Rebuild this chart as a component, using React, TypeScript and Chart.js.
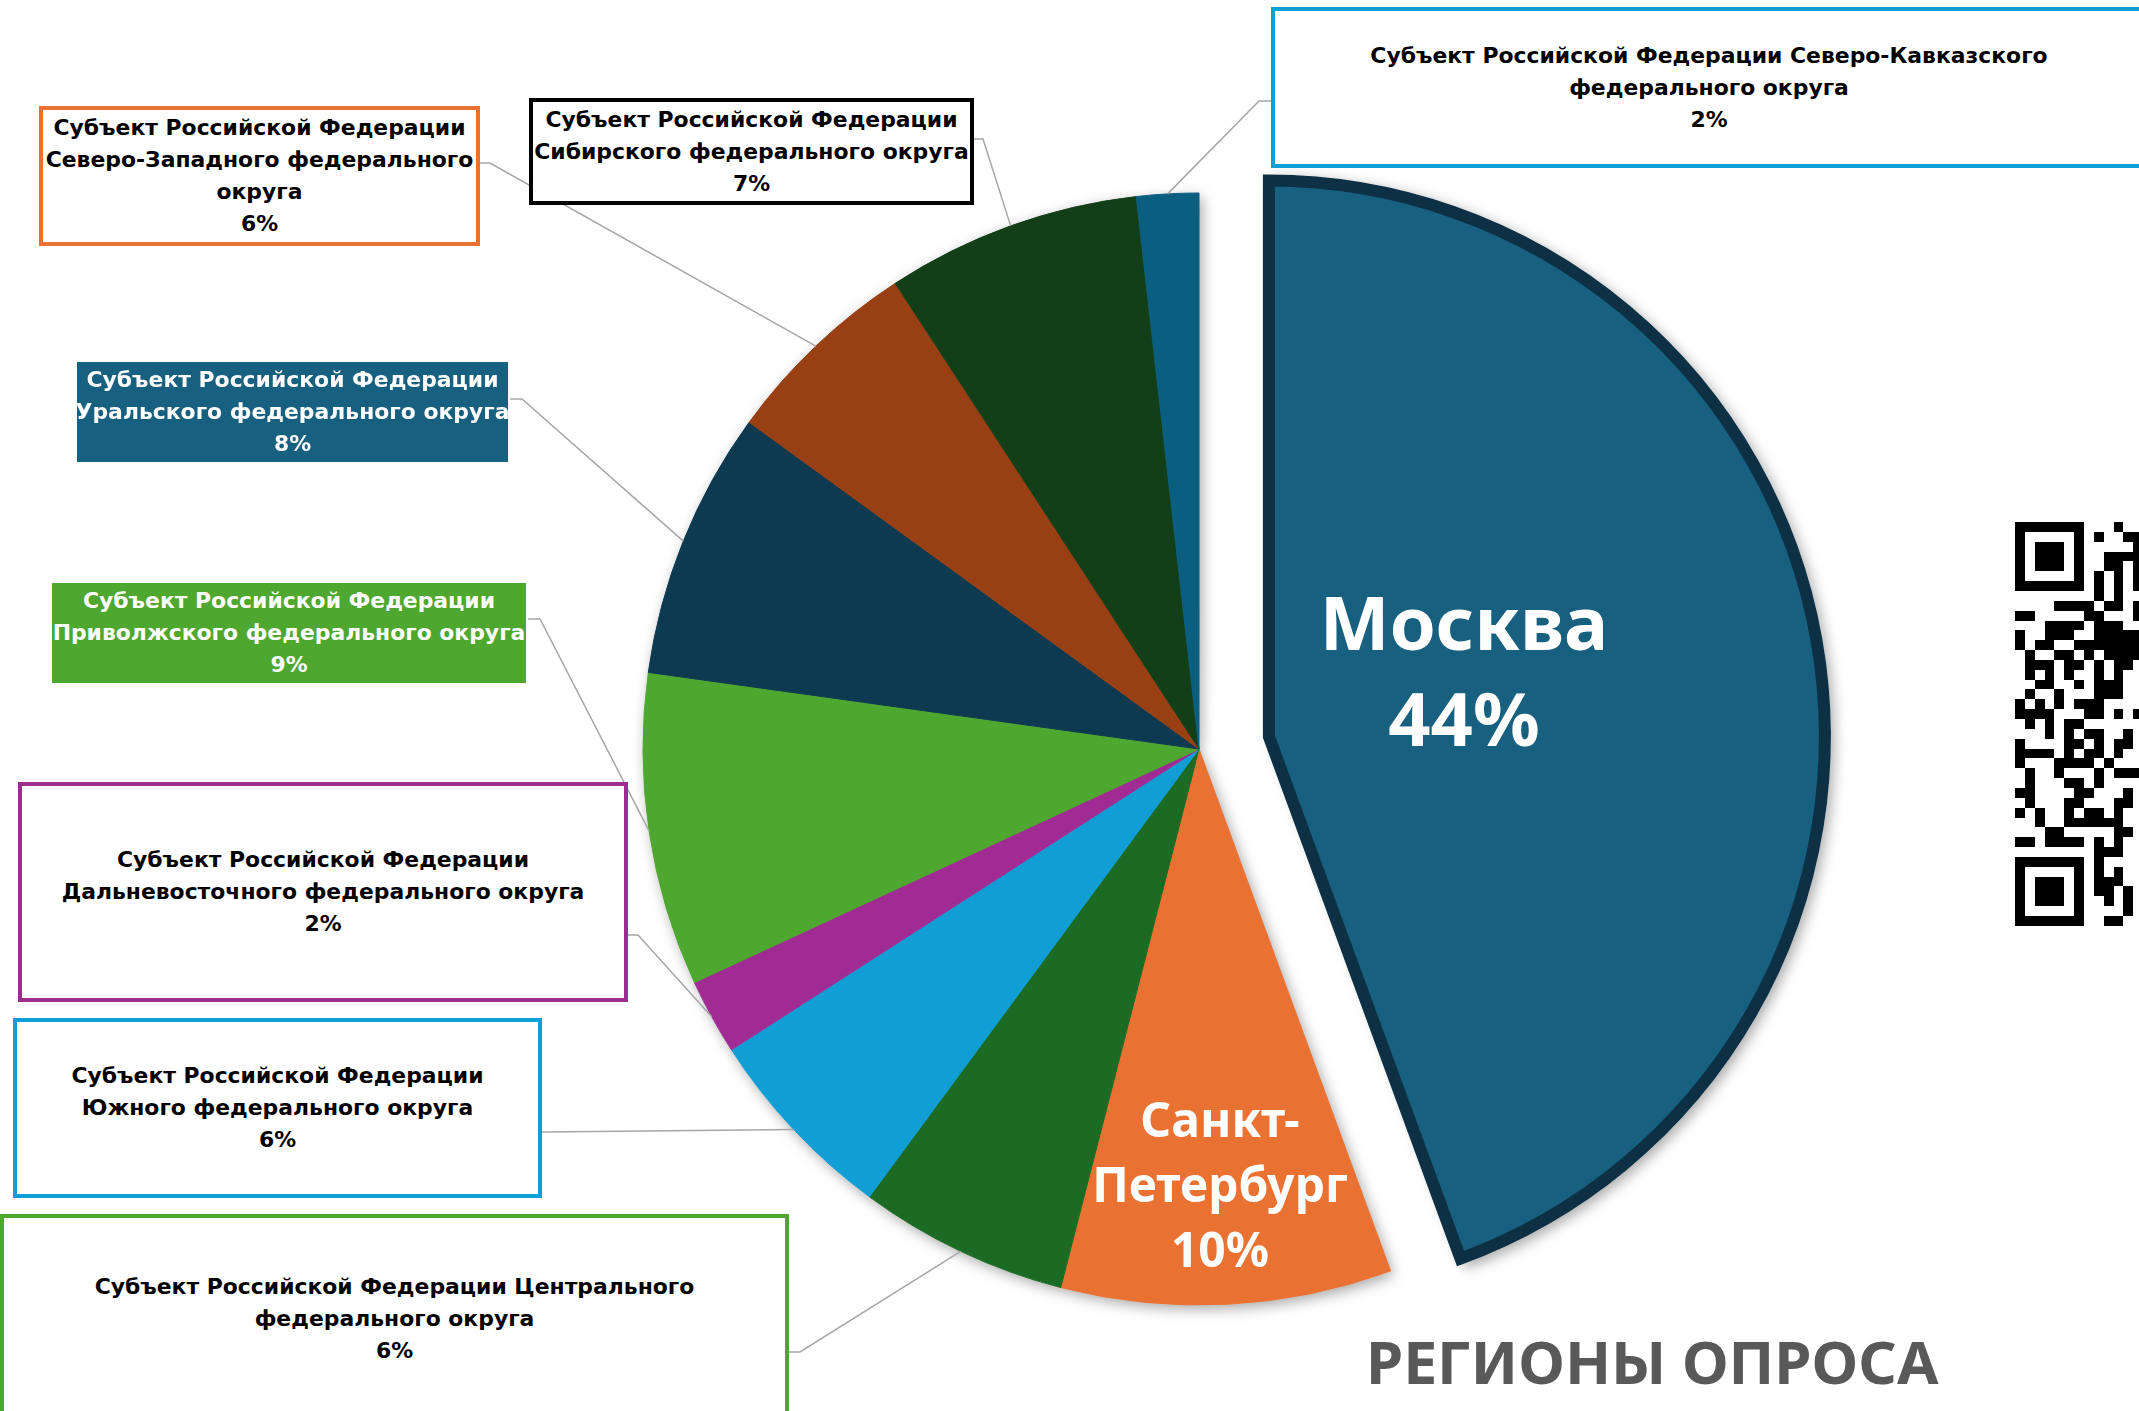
import React, { useEffect, useRef } from 'react';
import { Chart, registerables } from 'chart.js';

Chart.register(...registerables);

const W = 2139;
const H = 1411;

// ---- data ----
const regions = [
  'Москва',
  'Санкт-Петербург',
  'Центральный федеральный округ',
  'Южный федеральный округ',
  'Дальневосточный федеральный округ',
  'Приволжский федеральный округ',
  'Уральский федеральный округ',
  'Северо-Западный федеральный округ',
  'Сибирский федеральный округ',
  'Северо-Кавказский федеральный округ',
];
// shares in percent (labels show rounded values)
const shares = [44.4, 9.6, 6.1, 5.8, 2.2, 9.1, 7.8, 5.8, 7.4, 1.8];

const insideLabelLines: string[][] = [
  ['Москва'],
  ['Санкт-', 'Петербург'],
];

const calloutLines: string[][] = [
  [],
  [],
  ['Субъект Российской Федерации Центрального', 'федерального округа'],
  ['Субъект Российской Федерации', 'Южного федерального округа'],
  ['Субъект Российской Федерации', 'Дальневосточного федерального округа'],
  ['Субъект Российской Федерации', 'Приволжского федерального округа'],
  ['Субъект Российской Федерации', 'Уральского федерального округа'],
  ['Субъект Российской Федерации', 'Северо-Западного федерального', 'округа'],
  ['Субъект Российской Федерации', 'Сибирского федерального округа'],
  ['Субъект Российской Федерации Северо-Кавказского', 'федерального округа'],
];

const chartTitle = 'РЕГИОНЫ ОПРОСА';

const pct = (v: number) => `${Math.round(v)}%`;

// ---- styles / layout ----
const sliceColors = ['#17607f', '#e97132', '#1b6b24', '#109ed5', '#a02b93', '#4ea72e', '#0e3a51', '#983f13', '#133f18', '#0a5e80'];
const borderColors = ['#0d3045', '#e97132', '#1b6b24', '#109ed5', '#a02b93', '#4ea72e', '#0e3a51', '#983f13', '#133f18', '#0a5e80'];
const borderWidths = [12, 1, 1, 1, 1, 1, 1, 1, 1, 1];
const explode = [71, 0, 0, 0, 0, 0, 0, 0, 0, 0];

type Callout = {
  i: number; left: number; top: number; width: number; height: number;
  border?: string; bg: string; color: string; anchorX: number; anchorY: number; stub: number;
};
const calloutLayout: Callout[] = [
  { i: 9, left: 1271, top: 7, width: 876, height: 161, border: '4px solid #0f9ed5', bg: '#fff', color: '#000', anchorX: 1271, anchorY: 101, stub: -12 },
  { i: 8, left: 529, top: 98, width: 445, height: 107, border: '4px solid #000', bg: '#fff', color: '#000', anchorX: 974, anchorY: 139, stub: 9 },
  { i: 7, left: 39, top: 106, width: 441, height: 140, border: '4px solid #e97132', bg: '#fff', color: '#000', anchorX: 480, anchorY: 163, stub: 10 },
  { i: 6, left: 77, top: 362, width: 431, height: 100, bg: '#17607f', color: '#fff', anchorX: 510, anchorY: 399, stub: 12 },
  { i: 5, left: 52, top: 583, width: 474, height: 100, bg: '#4ea72e', color: '#fff', anchorX: 528, anchorY: 619, stub: 12 },
  { i: 4, left: 18, top: 782, width: 610, height: 220, border: '4px solid #a02b93', bg: '#fff', color: '#000', anchorX: 628, anchorY: 935, stub: 10 },
  { i: 3, left: 13, top: 1018, width: 529, height: 180, border: '4px solid #0f9ed5', bg: '#fff', color: '#000', anchorX: 542, anchorY: 1132, stub: 4 },
  { i: 2, left: 0, top: 1214, width: 789, height: 210, border: '4px solid #4ea72e', bg: '#fff', color: '#000', anchorX: 789, anchorY: 1352, stub: 11 },
];

const qrRows = [
  '#######...#..',
  '#.....#.#..##',
  '#.###.#.....#',
  '#.###.#..####',
  '#.###.#..##.#',
  '#.....#.#.#.#',
  '#######.#.#.#',
  '........#.#..',
  '....####.##.#',
  '##.....##...#',
  '...####.###..',
  '#..###..#####',
  '#.##..#######',
  '.#..##.#.####',
  '.###.##.#.##.',
  '.#.#.#..#.#..',
  '..##..#.###..',
  '.#..#...###..',
  '#.#.#.###....',
  '####...##.#.#',
  '.#.#.##......',
  '...#.#.##..#.',
  '#....##.#.##.',
  '####.#.##.#..',
  '#...####.#...',
  '.#..#...#.###',
  '.#...##.#....',
  '##....##...#.',
  '.#...##...##.',
  '#.#..#.##.#..',
  '..#..######..',
  '...##.....##.',
  '##.####.#.#..',
  '........###..',
  '#######.#....',
  '#.....#.#.#..',
  '#.###.#.###..',
  '#.###.#.##.#.',
  '#.###.#..#.#.',
  '#.....#....#.',
  '#######..##..',
];

function arcProps(el: any) {
  return el.getProps(['x', 'y', 'startAngle', 'endAngle', 'outerRadius'], true);
}

const pieDecor = {
  id: 'pieDecor',
  beforeDatasetsDraw(chart: any) {
    const meta = chart.getDatasetMeta(0);
    const ctx = chart.ctx;
    ctx.save();
    ctx.shadowColor = 'rgba(0,0,0,0.35)';
    ctx.shadowBlur = 14;
    ctx.shadowOffsetX = 3;
    ctx.shadowOffsetY = 4;
    ctx.fillStyle = '#ffffff';
    meta.data.forEach((el: any, i: number) => {
      const p = arcProps(el);
      const mid = (p.startAngle + p.endAngle) / 2;
      const d = explode[i] || 0;
      const cx = p.x + Math.cos(mid) * d;
      const cy = p.y + Math.sin(mid) * d;
      const r = p.outerRadius + (borderWidths[i] > 1 ? borderWidths[i] / 2 : 0);
      ctx.beginPath();
      ctx.moveTo(cx, cy);
      ctx.arc(cx, cy, r, p.startAngle, p.endAngle);
      ctx.closePath();
      ctx.fill();
    });
    ctx.restore();
  },
  beforeDatasetDraw(chart: any, args: any) {
    const ctx = chart.ctx;
    args.meta.data.forEach((el: any, i: number) => {
      const p = arcProps(el);
      const mid = (p.startAngle + p.endAngle) / 2;
      const d = explode[i] || 0;
      ctx.save();
      ctx.translate(Math.cos(mid) * d, Math.sin(mid) * d);
      el.draw(ctx, chart.chartArea);
      ctx.restore();
    });
    return false;
  },
  afterDatasetsDraw(chart: any) {
    const meta = chart.getDatasetMeta(0);
    const ctx = chart.ctx;
    ctx.save();
    ctx.strokeStyle = '#a6a6a6';
    ctx.lineWidth = 1.5;
    calloutLayout.forEach((c) => {
      const el = meta.data[c.i];
      if (!el) return;
      const p = arcProps(el);
      const mid = (p.startAngle + p.endAngle) / 2;
      const px = p.x + Math.cos(mid) * p.outerRadius;
      const py = p.y + Math.sin(mid) * p.outerRadius;
      ctx.beginPath();
      ctx.moveTo(c.anchorX, c.anchorY);
      ctx.lineTo(c.anchorX + c.stub, c.anchorY);
      ctx.lineTo(px, py);
      ctx.stroke();
    });
    ctx.restore();
  },
};

export default function App() {
  const canvasRef = useRef<HTMLCanvasElement | null>(null);

  useEffect(() => {
    if (!canvasRef.current) return;
    const chart = new Chart(canvasRef.current, {
      type: 'pie',
      data: {
        labels: regions,
        datasets: [
          {
            data: shares,
            backgroundColor: sliceColors,
            borderColor: borderColors,
            borderWidth: borderWidths,
            borderJoinStyle: 'miter',
            hoverOffset: 0,
          } as any,
        ],
      },
      options: {
        responsive: false,
        animation: false,
        events: [],
        radius: 556,
        layout: { padding: { left: 259, right: 0, top: 87, bottom: 0 } },
        plugins: {
          legend: { display: false },
          tooltip: { enabled: false },
          title: { display: false },
        },
      } as any,
      plugins: [pieDecor],
    });
    return () => chart.destroy();
  }, []);

  const calloutFont = '"DejaVu Sans", sans-serif';
  const bigFont = '"Noto Sans", "Open Sans", sans-serif';

  return (
    <div style={{ position: 'absolute', left: 0, top: 0, width: W, height: H, overflow: 'hidden', background: '#fff' }}>
      <canvas ref={canvasRef} width={W} height={H} style={{ position: 'absolute', left: 0, top: 0, width: W, height: H }} />

      {calloutLayout.map((c) => (
        <div
          key={c.i}
          style={{
            position: 'absolute',
            left: c.left,
            top: c.top,
            width: c.width,
            height: c.height,
            boxSizing: 'border-box',
            border: c.border || 'none',
            background: c.bg,
            color: c.color,
            display: 'flex',
            flexDirection: 'column',
            justifyContent: 'center',
            alignItems: 'center',
            fontFamily: calloutFont,
            fontWeight: 700,
            fontSize: 21.9,
            lineHeight: '32px',
            textAlign: 'center',
            whiteSpace: 'nowrap',
          }}
        >
          {calloutLines[c.i].map((t, k) => (
            <div key={k}>{t}</div>
          ))}
          <div>{pct(shares[c.i])}</div>
        </div>
      ))}

      {/* Moscow label */}
      <div
        style={{
          position: 'absolute', left: 1164, top: 574, width: 600, textAlign: 'center',
          fontFamily: bigFont, fontWeight: 700, fontSize: 74, lineHeight: '96px', color: '#fff', whiteSpace: 'nowrap',
        }}
      >
        {insideLabelLines[0].map((t, k) => (<div key={k}>{t}</div>))}
        <div>{pct(shares[0])}</div>
      </div>

      {/* Saint Petersburg label */}
      <div
        style={{
          position: 'absolute', left: 1020, top: 1086, width: 400, textAlign: 'center',
          fontFamily: bigFont, fontWeight: 700, fontSize: 48, lineHeight: '65px', color: '#fff', whiteSpace: 'nowrap',
        }}
      >
        {insideLabelLines[1].map((t, k) => (<div key={k}>{t}</div>))}
        <div>{pct(shares[1])}</div>
      </div>

      {/* Title */}
      <div
        style={{
          position: 'absolute', left: 1366, top: 1321, fontFamily: bigFont, fontWeight: 700, fontSize: 60,
          lineHeight: '81px', color: '#595959', whiteSpace: 'nowrap',
        }}
      >
        {chartTitle}
      </div>

      {/* QR code (decorative) */}
      <svg
        style={{ position: 'absolute', left: 2015, top: 522 }}
        width={13 * 9.85}
        height={41 * 9.85}
        shapeRendering="crispEdges"
      >
        {qrRows.map((row, r) =>
          row.split('').map((ch, c) =>
            ch === '#' ? <rect key={r + '-' + c} x={c * 9.85} y={r * 9.85} width={9.85} height={9.85} fill="#000" /> : null
          )
        )}
      </svg>
    </div>
  );
}
